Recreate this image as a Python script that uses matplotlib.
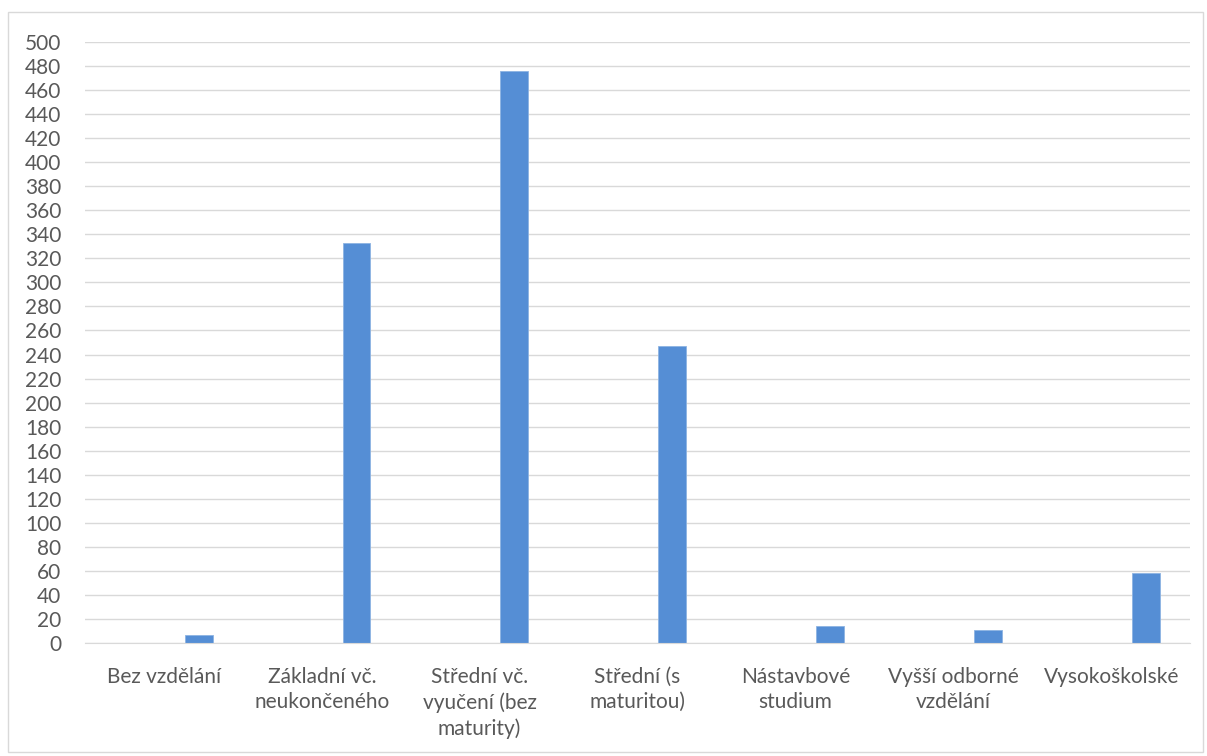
import matplotlib.pyplot as plt
from matplotlib.patches import Rectangle
import numpy as np

# Categories and values (counts by education level)
categories = ["Bez vzdělání", "Základní vč.\nneukončeného", "Střední vč.\nvyučení (bez\nmaturity)",
              "Střední (s\nmaturitou)", "Nástavbové\nstudium", "Vyšší odborné\nvzdělání", "Vysokoškolské"]
values = [7, 333, 476, 247, 14, 11, 58]
yticks = list(range(0, 501, 20))

plt.rcParams['font.family'] = ['Lato', 'DejaVu Sans']

fig = plt.figure(figsize=(12.07, 7.56), dpi=100)
ax = fig.add_axes([0.0704, 0.1495, 0.9156, 0.7949])

# chart border like an Excel chart area
fig.patches.append(Rectangle((0.007, 0.005), 0.99, 0.979, transform=fig.transFigure,
                             fill=False, edgecolor="#D9D9D9", linewidth=1))

x = np.arange(len(categories))
ax.bar(x + 0.22, values, width=0.177, color="#558ED5", edgecolor="#8DB3E2", linewidth=0.6, zorder=3)

ax.set_xlim(-0.5, len(categories) - 0.5)
ax.set_ylim(0, 500)
ax.set_yticks(yticks)
ax.set_xticks(x)
ax.set_xticklabels(categories, linespacing=1.35)
ax.grid(axis="y", color="#D9D9D9", linewidth=1, zorder=0)

for s in ["top", "right", "left"]:
    ax.spines[s].set_visible(False)
ax.spines["bottom"].set_color("#D9D9D9")
ax.spines["bottom"].set_zorder(4)
ax.tick_params(axis="both", length=0, labelsize=15, colors="#595959")
ax.tick_params(axis="x", pad=17)
ax.tick_params(axis="y", pad=17)

fig.savefig("out.png", dpi=100)
